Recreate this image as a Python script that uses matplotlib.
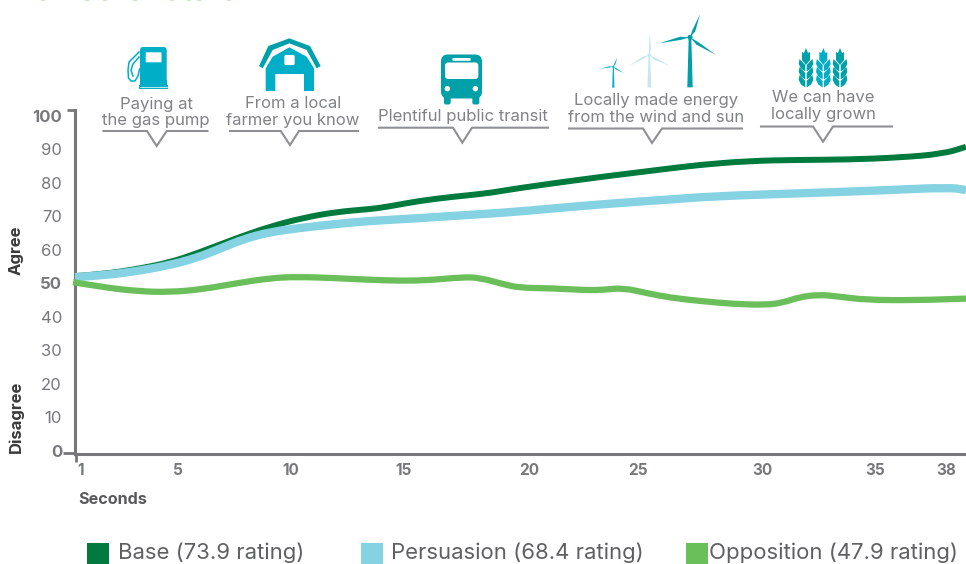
import matplotlib
matplotlib.use("Agg")
import matplotlib.pyplot as plt
from matplotlib.patches import Polygon, FancyBboxPatch, Circle, Rectangle, PathPatch
from matplotlib.path import Path
from matplotlib.transforms import ScaledTranslation

# ---------- data ----------
base_s = [0.74,1.94,3.39,4.80,5.96,7.67,9.08,10.49,11.94,13.35,14.08,15.49,16.90,18.35,19.46,21.17,23.31,26.0,27.41,29.55,31.68,33.82,35.96,37.84,38.82]
base_v = [51.9,52.5,54.0,56.0,58.7,63.3,66.7,69.3,71.1,71.9,72.6,74.4,75.6,76.6,77.9,79.6,81.6,83.9,85.1,86.3,86.6,86.7,87.3,88.4,90.5]
pers_s = [0.74,1.94,3.39,4.80,5.96,6.94,7.92,9.08,10.49,11.94,13.35,15.49,16.90,19.04,21.17,23.31,26.0,28.14,31.68,35.27,38.09,38.82]
pers_v = [51.6,52.1,53.4,55.2,57.4,60.1,62.9,65.1,66.4,67.5,68.4,69.2,69.9,70.8,72.1,73.4,74.7,75.8,76.6,77.5,78.4,77.6]
oppo_s = [0.66,1.94,3.39,4.80,6.21,7.67,9.08,10.23,11.94,13.35,14.76,15.91,17.32,18.05,19.04,19.76,21.04,22.62,23.31,24.16,25.19,26.17,27.41,28.86,30.27,31.0,31.68,32.54,33.39,34.55,36.68,38.82]
oppo_v = [50.1,48.6,47.4,47.1,48.0,49.8,51.3,51.7,51.3,50.8,50.5,50.7,51.6,51.4,49.5,48.4,48.3,47.7,47.8,48.4,46.8,45.5,44.5,43.6,43.3,44.0,45.6,46.4,45.8,44.8,44.7,45.2]
y_ticks = [0,10,20,30,40,50,60,70,80,90,100]
y_bold = [0,50,100]
x_ticks = [1,5,10,15,20,25,30,35,38]
x_label_nudge_px = [0,3.4,-0.6,-4.6,3.4,-4.6,2.4,-1.6,-0.8]
legend_labels = ["Base (73.9 rating)","Persuasion (68.4 rating)","Opposition (47.9 rating)"]
callouts = ["Paying at\nthe gas pump","From a local\nfarmer you know","Plentiful public transit",
            "Locally made energy\nfrom the wind and sun","We can have\nlocally grown"]

C_BASE="#007a3d"; C_PERS="#84d2e2"; C_OPPO="#6abf5a"
C_AX="#77777b"; C_TXT="#808285"; C_TICK="#77787b"; C_LEG="#5f6062"
TEAL="#00a0a8"; CYAN="#00aec7"; PALE="#c5e6ee"
FONT="Inter"
plt.rcParams['font.family']=[FONT,'DejaVu Sans']

W,H=966,564
fig=plt.figure(figsize=(W/100,H/100),dpi=100,facecolor="white")
L,R,T,B=74.5,966,110,454
ax=fig.add_axes([L/W,1-B/H,(R-L)/W,(B-T)/H])
px_s=23.4; px_v=3.35
ax.set_xlim(1+(L-81)/px_s,1+(R-81)/px_s)
ax.set_ylim((450-B)/px_v,(450-T)/px_v)

def smooth(s,v,color,lw,z):
    """Draw the read values as a smooth stroke (quadratic segments through the midpoints)."""
    verts=[(s[0],v[0])]; codes=[Path.MOVETO]
    for i in range(1,len(s)-1):
        verts+= [(s[i],v[i]),((s[i]+s[i+1])/2,(v[i]+v[i+1])/2)]
        codes+= [Path.CURVE3,Path.CURVE3]
    verts.append((s[-1],v[-1])); codes.append(Path.LINETO)
    ax.add_patch(PathPatch(Path(verts,codes),fc='none',ec=color,lw=lw,capstyle='butt',joinstyle='round',clip_on=False,zorder=z))
smooth(base_s,base_v,C_BASE,4.3,3)
smooth(pers_s,pers_v,C_PERS,6.0,4)
smooth(oppo_s,oppo_v,C_OPPO,4.5,5)

for s in ('top','right'): ax.spines[s].set_visible(False)
for s in ('left','bottom'):
    ax.spines[s].set_linewidth(2.2); ax.spines[s].set_color(C_AX)
ax.patch.set_alpha(0)
ax.set_yticks(y_ticks); ax.set_yticklabels([str(v) for v in y_ticks])
ax.tick_params(axis='y',length=0,pad=9,labelsize=12,labelcolor=C_TICK)
for t,v in zip(ax.get_yticklabels(),y_ticks):
    if v in y_bold: t.set_fontweight('bold')
    t.set_transform(t.get_transform()+ScaledTranslation(0,-0.008,fig.dpi_scale_trans))
ax.set_xticks(x_ticks); ax.set_xticklabels([str(v) for v in x_ticks])
ax.tick_params(axis='x',length=0,pad=6.7,labelsize=11,labelcolor=C_TICK)
for t,dx in zip(ax.get_xticklabels(),x_label_nudge_px):
    t.set_fontweight('bold')
    t.set_transform(t.get_transform()+ScaledTranslation(dx/100,0,fig.dpi_scale_trans))

ov=fig.add_axes([0,0,1,1],zorder=10); ov.set_xlim(0,W); ov.set_ylim(H,0); ov.axis('off')
def line(xs,ys,c=C_AX,lw=1.5,**k): ov.plot(xs,ys,color=c,lw=lw,clip_on=False,solid_capstyle='butt',**k)
line([67,74],[110,110],lw=2); line([63,74],[452.5,452.5],lw=2); line([76,76],[454,462],lw=2)
ov.text(16.5,250,"Agree",rotation=90,ha='center',va='center',fontsize=12,fontweight='bold',color="#3a3a3c")
ov.text(16.5,417,"Disagree",rotation=90,ha='center',va='center',fontsize=12,fontweight='bold',color="#3a3a3c")
ov.text(78,499,"Seconds",ha='left',va='center',fontsize=11.6,fontweight='bold',color="#58595b")

for x in (43,87,105,135,172,189,199,229):
    ov.add_patch(Rectangle((x-2,0),4,1,color="#cdeac8",lw=0))

geo=[(156,[103,120],131,103.5,207.5,147,156.7,166.7,146),
     (293,[103,120],131,230,358,280.7,290,299,145),
     (463,[115],127.7,379,548,453,462.3,472,142.7),
     (656,[99,116],128.5,569,742,643,652,662,143),
     (823,[97,114],126.5,761,892,813,823,833,141.7)]
for txt,(cx,ys,ly,x0,x1,n0,nt,n1,tip) in zip(callouts,geo):
    for s,y in zip(txt.split("\n"),ys):
        ov.text(cx,y+1,s,ha='center',va='center',fontsize=12,color=C_TXT)
    ov.plot([x0,n0,nt,n1,x1],[ly,ly,tip,ly,ly],color="#8f9093",lw=1.5,solid_joinstyle='miter',clip_on=False)

def rbox(x0,y0,x1,y1,r,c,z=11):
    ov.add_patch(FancyBboxPatch((x0+r,y0+r),x1-x0-2*r,y1-y0-2*r,boxstyle=f"round,pad={r},rounding_size={r}",fc=c,ec='none',zorder=z,clip_on=False))
def poly(pts,c,z=11):
    ov.add_patch(Polygon(pts,closed=True,fc=c,ec='none',zorder=z,clip_on=False))

# gas pump
rbox(140,47,166.7,88,3,CYAN); ov.add_patch(Rectangle((140,80),26.7,8,fc=CYAN,ec='none',zorder=11))
rbox(145.7,52.3,161.5,62.3,0.5,"white",12)
ov.add_patch(Rectangle((139,84.5),29,4.5,fc=CYAN,ec='none',zorder=11))
ov.plot([140,166.5],[86.5,86.5],color="white",lw=0.5,zorder=12)
ov.plot([139,129,128,128.5,131,135,138,139.5],[52,62,70,78,81,81,76,69],color=CYAN,lw=1.1,zorder=12)
ov.plot([139,133,131,133],[57,64,70,76],color=CYAN,lw=1.1,zorder=12)

# barn
bx=lambda pts:[(90+a/3,b/3) for a,b in pts]
poly(bx([(507,198),(535,138),(598,115),(660,138),(692,198),(680,205),(650,150),(598,130),(548,150),(518,205)]),TEAL)
poly(bx([(527,273),(527,205),(548,170),(598,142),(650,170),(672,205),(672,273),(642,273),(642,222),(556,222),(556,273)]),CYAN)
rbox(90+583/3,165/3,90+614/3,195/3,1.5,"white",12)

# bus
busx=lambda a:370+a/3
rbox(busx(222),92,busx(242),104.5,2,TEAL); rbox(busx(307),92,busx(328),104.5,2,TEAL)
rbox(busx(213),54.5,busx(336),98.5,7,TEAL)
rbox(busx(225),62.5,busx(325),79,3,"white",12)
rbox(busx(247),58,busx(302),60.8,1,"white",12)
for a in (232,316):
    ov.add_patch(Circle((busx(a),266/3),2.7,fc="white",ec='none',zorder=12))

# wind turbines
wx=lambda a:590+a/3; wy=lambda b:5+b/3
def turbine(h,tips,bottom,tw,bw,c):
    hx,hy=wx(h[0]),wy(h[1])
    poly([(hx-tw,hy),(hx+tw,hy),(hx+bw,wy(bottom)),(hx-bw,wy(bottom))],c)
    for (a,b) in tips:
        tx,ty=wx(a),wy(b); dx,dy=tx-hx,ty-hy; n=(dx*dx+dy*dy)**.5; nx,ny=-dy/n,dx/n
        mx,my=hx+.3*dx,hy+.3*dy; w=bw*0.9
        poly([(hx,hy),(mx+nx*w,my+ny*w),(tx,ty),(mx-nx*w*.3,my-ny*w*.3)],c)
    ov.add_patch(Circle((hx,hy),bw*0.95,fc=c,ec='none',zorder=11))
turbine((70,185),[(82,157),(30,191),(102,205)],248,0.5,1.1,CYAN)
turbine((178,150),[(179,85),(118,183),(240,183)],247,0.7,1.9,PALE)
turbine((300,97),[(330,28),(207,115),(378,150)],247,1.3,2.7,TEAL)

# wheat
def wheat(cx,c):
    poly([(cx,48),(cx+2,53),(cx+4,52),(cx+4,60),(cx,65),(cx-4,60),(cx-4,52),(cx-2,53)],c)
    for i,y in enumerate((61,69,77)):
        for sgn in (-1,1):
            poly([(cx+sgn*.7,y+4),(cx+sgn*6.5,y-2),(cx+sgn*7.3,y+3),(cx+sgn*5,y+7.5),(cx+sgn*.7,y+10.5)],c)
for a,c in ((438,TEAL),(490,CYAN),(540,TEAL)):
    wheat(660+a/3,c)

# legend
lx=[(87,118),(361,391),(686,709)]
for (sx,tx),lab,c in zip(lx,legend_labels,(C_BASE,C_PERS,C_OPPO)):
    ov.add_patch(Rectangle((sx,543),22,21,fc=c,ec='none',zorder=11))
    ov.text(tx,553,lab,ha='left',va='center',fontsize=15.9,color=C_LEG)

fig.savefig("out.png",dpi=100,facecolor="white")
